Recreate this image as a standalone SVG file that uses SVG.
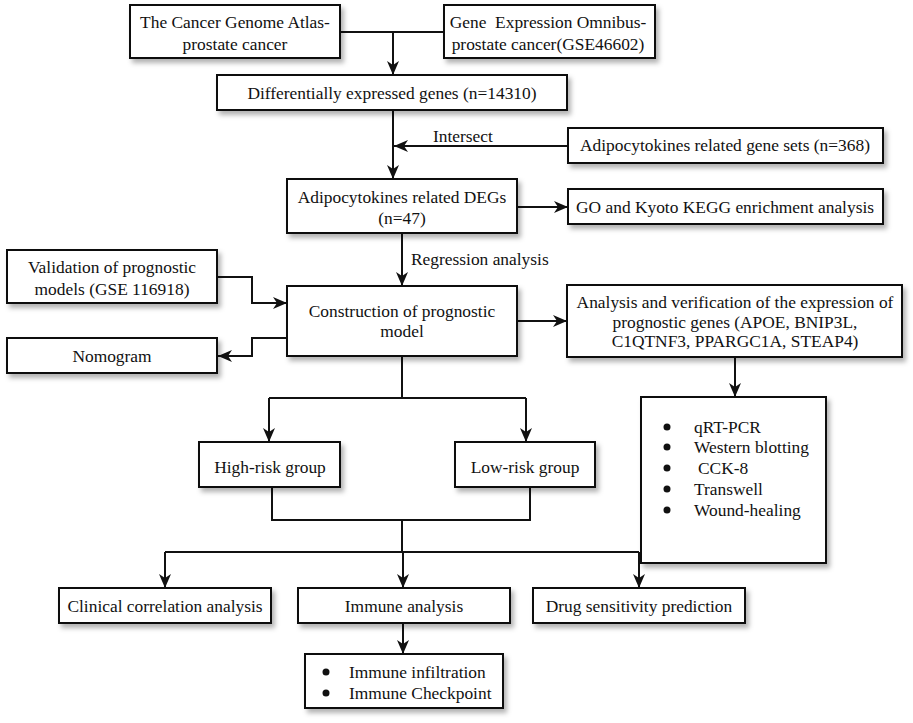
<svg xmlns="http://www.w3.org/2000/svg" width="913" height="723" viewBox="0 0 913 723">
<style>
text{font-family:"Liberation Serif","Times New Roman",serif;font-size:17.4px;fill:#111}
.c{text-anchor:middle}
.box rect{fill:#fff;stroke:#111;stroke-width:2;filter:url(#sh)}
.conn path{fill:none;stroke:#111;stroke-width:2}
.a{marker-end:url(#arr)}
</style>
<defs>
<filter id="sh" x="-10%" y="-20%" width="130%" height="160%">
<feDropShadow dx="3" dy="4" stdDeviation="2.5" flood-color="#000" flood-opacity="0.3"/>
</filter>
<marker id="arr" markerUnits="userSpaceOnUse" markerWidth="16" markerHeight="16" viewBox="0 0 16 16" refX="15" refY="8" orient="auto">
<path d="M1,2 L15,8 L1,14 L5,8 z" fill="#111"/>
</marker>
</defs>

<g class="conn" id="connectors">
<path d="M340,32 H444"/>
<path class="a" d="M393,32 V75"/>
<path class="a" d="M393,110 V179"/>
<path class="a" d="M568,146 H394"/>
<path class="a" d="M518,207 H568"/>
<path class="a" d="M402,233 V286"/>
<path class="a" d="M217,277 H252 V303 H287"/>
<path class="a" d="M287,338 H252 V356 H218"/>
<path class="a" d="M518,321 H567"/>
<path class="a" d="M735,357 V397"/>
<path d="M402,356 V398 H269 M402,398 H526"/>
<path class="a" d="M269,398 V442"/>
<path class="a" d="M526,398 V442"/>
<path d="M272,487 V520 H530 V487"/>
<path d="M402,520 V552 H165 M402,552 H639"/>
<path class="a" d="M165,552 V588"/>
<path class="a" d="M403,552 V588"/>
<path class="a" d="M639,552 V588"/>
<path class="a" d="M403,623 V654"/>
</g>

<text x="433" y="142">Intersect</text>
<text x="411" y="265">Regression analysis</text>

<g class="box" id="tcga"><rect x="130" y="5" width="210" height="53"/>
<text class="c" x="235" y="28">The Cancer Genome Atlas-</text><text class="c" x="235" y="50">prostate cancer</text></g>

<g class="box" id="geo"><rect x="444" y="5" width="211" height="53"/>
<text class="c" x="548" y="28" xml:space="preserve">Gene  Expression Omnibus-</text><text class="c" x="548" y="50">prostate cancer(GSE46602)</text></g>

<g class="box" id="deg"><rect x="217" y="75" width="350" height="35"/>
<text class="c" x="392" y="99">Differentially expressed genes (n=14310)</text></g>

<g class="box" id="genesets"><rect x="568" y="128" width="315" height="35"/>
<text class="c" x="725" y="151">Adipocytokines related gene sets (n=368)</text></g>

<g class="box" id="adegs"><rect x="287" y="179" width="230" height="54"/>
<text class="c" x="402" y="203">Adipocytokines related DEGs</text><text class="c" x="402" y="224">(n=47)</text></g>

<g class="box" id="go"><rect x="568" y="189" width="315" height="35"/>
<text class="c" x="725" y="213">GO and Kyoto KEGG enrichment analysis</text></g>

<g class="box" id="validation"><rect x="7" y="250" width="210" height="53"/>
<text class="c" x="112" y="273">Validation of prognostic</text><text class="c" x="112" y="295">models (GSE 116918)</text></g>

<g class="box" id="nomogram"><rect x="7" y="338" width="210" height="35"/>
<text class="c" x="112" y="362">Nomogram</text></g>

<g class="box" id="construction"><rect x="287" y="286" width="230" height="70"/>
<text class="c" x="402" y="317">Construction of prognostic</text><text class="c" x="402" y="337">model</text></g>

<g class="box" id="analysis"><rect x="567" y="285" width="335" height="72"/>
<text class="c" x="735" y="308">Analysis and verification of the expression of</text>
<text class="c" x="735" y="328">prognostic genes (APOE, BNIP3L,</text>
<text class="c" x="735" y="347">C1QTNF3, PPARGC1A, STEAP4)</text></g>

<g class="box" id="experiments"><rect x="641" y="397" width="185" height="166"/>
<g fill="#111"><circle cx="667" cy="427" r="3.5"/><circle cx="667" cy="447" r="3.5"/><circle cx="667" cy="468" r="3.5"/><circle cx="667" cy="489" r="3.5"/><circle cx="667" cy="510" r="3.5"/></g>
<text x="694" y="433">qRT-PCR</text>
<text x="694" y="453">Western blotting</text>
<text x="698" y="474">CCK-8</text>
<text x="694" y="495">Transwell</text>
<text x="694" y="516">Wound-healing</text></g>

<g class="box" id="high"><rect x="199" y="442" width="141" height="45"/>
<text class="c" x="270" y="473">High-risk group</text></g>

<g class="box" id="low"><rect x="455" y="442" width="140" height="45"/>
<text class="c" x="525" y="473">Low-risk group</text></g>

<g class="box" id="clinical"><rect x="59" y="588" width="212" height="35"/>
<text class="c" x="165" y="612">Clinical correlation analysis</text></g>

<g class="box" id="immune"><rect x="298" y="588" width="212" height="35"/>
<text class="c" x="404" y="612">Immune analysis</text></g>

<g class="box" id="drug"><rect x="533" y="588" width="212" height="35"/>
<text class="c" x="639" y="612">Drug sensitivity prediction</text></g>

<g class="box" id="immunesub"><rect x="305" y="654" width="198" height="54"/>
<g fill="#111"><circle cx="326" cy="672" r="3.5"/><circle cx="326" cy="693" r="3.5"/></g>
<text x="349" y="678">Immune infiltration</text>
<text x="349" y="699">Immune Checkpoint</text></g>
</svg>
